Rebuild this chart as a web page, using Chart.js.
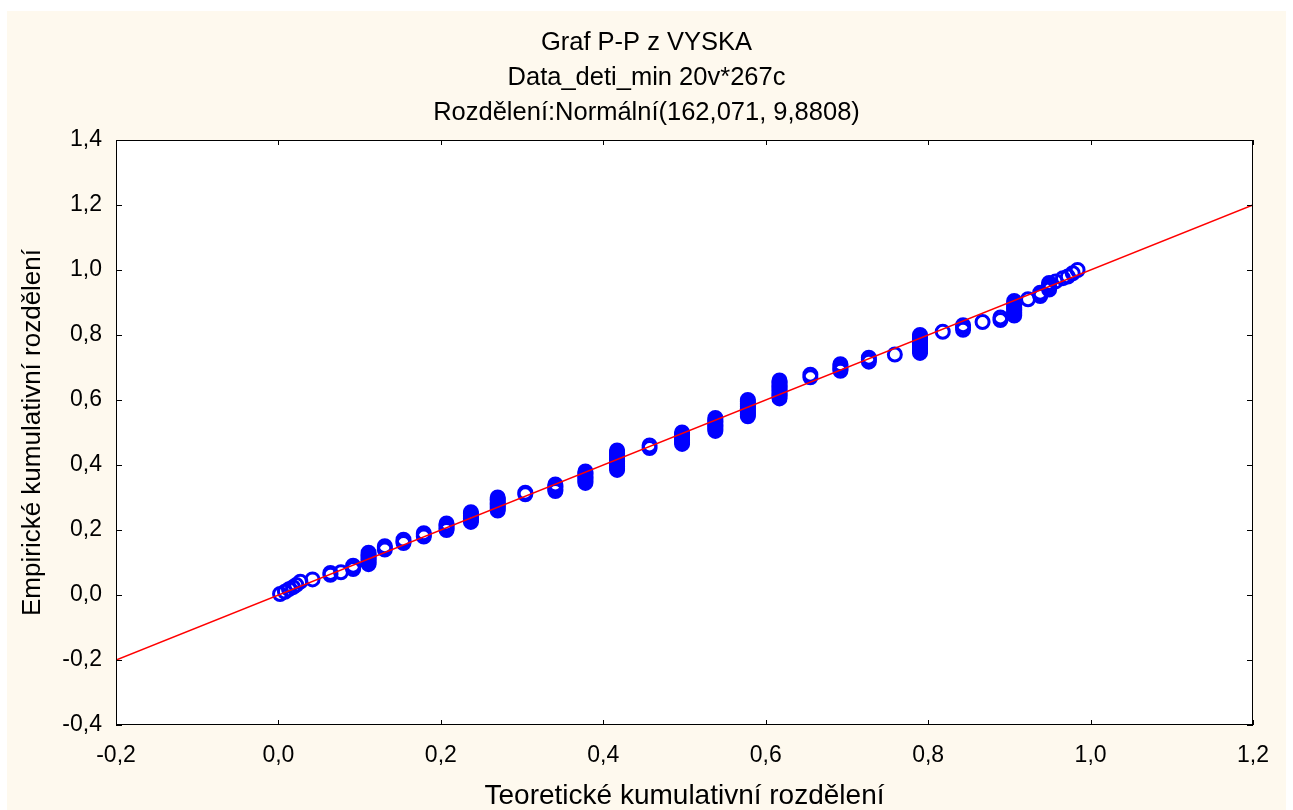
<!DOCTYPE html>
<html>
<head>
<meta charset="utf-8">
<script src="https://cdn.jsdelivr.net/npm/chart.js@4.4.1/dist/chart.umd.min.js"></script>
<style>
  html, body { margin: 0; padding: 0; background: #fff; }
  canvas { display: block; }
</style>
</head>
<body>
<canvas id="ppChart" width="1293" height="810"></canvas>
<script>
/* ==========================
   DATA
========================== */
const titleLines = ["Graf P-P z VYSKA", "Data_deti_min 20v*267c", "Rozdělení:Normální(162,071, 9,8808)"];
const xAxisTitle = "Teoretické kumulativní rozdělení";
const yAxisTitle = "Empirické kumulativní rozdělení";

const xTicks = [-0.2, 0.0, 0.2, 0.4, 0.6, 0.8, 1.0, 1.2];
const yTicks = [-0.4, -0.2, 0.0, 0.2, 0.4, 0.6, 0.8, 1.0, 1.2, 1.4];

// theoretical cumulative value of each group of equal heights
const theoretical = [
    0.002, 0.008, 0.013, 0.018, 0.022, 0.027, 0.042, 0.064, 0.077, 0.092,
    0.111, 0.131, 0.154, 0.179, 0.207, 0.237, 0.270, 0.304, 0.341, 0.378,
    0.417, 0.457, 0.497, 0.538, 0.578, 0.617, 0.655, 0.692, 0.727, 0.759,
    0.790, 0.818, 0.843, 0.867, 0.889, 0.906, 0.923, 0.938, 0.949, 0.957,
    0.966, 0.972, 0.978, 0.984
];

// empirical cumulative values seen in each group (stacked circles)
const empirical = [
    [0.003], [0.010], [0.018], [0.024], [0.031], [0.041], [0.048], [0.062, 0.068], [0.070], [0.080, 0.085, 0.090],
    [0.095, 0.100, 0.105, 0.110, 0.115, 0.120, 0.125, 0.130],
    [0.140, 0.145, 0.150],
    [0.160, 0.165, 0.170],
    [0.180, 0.185, 0.190],
    [0.200, 0.205, 0.210, 0.215, 0.220],
    [0.225, 0.230, 0.235, 0.240, 0.245, 0.250, 0.255],
    [0.260, 0.265, 0.270, 0.275, 0.280, 0.285, 0.290, 0.295, 0.300],
    [0.310, 0.315],
    [0.320, 0.325, 0.330, 0.335, 0.340],
    [0.345, 0.350, 0.355, 0.360, 0.365, 0.370, 0.375, 0.380],
    [0.385, 0.390, 0.395, 0.400, 0.405, 0.410, 0.415, 0.420, 0.425, 0.430, 0.435, 0.440, 0.445],
    [0.452, 0.460],
    [0.465, 0.470, 0.475, 0.480, 0.485, 0.490, 0.495, 0.500],
    [0.505, 0.510, 0.515, 0.520, 0.525, 0.530, 0.535, 0.540, 0.545],
    [0.550, 0.555, 0.560, 0.565, 0.570, 0.575, 0.580, 0.585, 0.590, 0.595, 0.600],
    [0.605, 0.610, 0.615, 0.620, 0.625, 0.630, 0.635, 0.640, 0.645, 0.650, 0.655, 0.660],
    [0.670, 0.678],
    [0.690, 0.695, 0.700, 0.705, 0.710],
    [0.718, 0.725, 0.730],
    [0.740],
    [0.745, 0.750, 0.755, 0.760, 0.765, 0.770, 0.775, 0.780, 0.785, 0.790, 0.795, 0.800],
    [0.810],
    [0.816, 0.824, 0.830],
    [0.840],
    [0.846, 0.854],
    [0.860, 0.865, 0.870, 0.875, 0.880, 0.885, 0.890, 0.895, 0.900, 0.905],
    [0.910],
    [0.920, 0.925, 0.930],
    [0.940, 0.945, 0.950, 0.955, 0.960],
    [0.965], [0.975], [0.980], [0.990], [1.000]
];

// reference line y = x over the axis range
const refLineX = [-0.2, 1.2];
const refLineY = [-0.2, 1.2];

/* ==========================
   STYLE
========================== */
const FONT = "'Liberation Sans', Arial, sans-serif";
const CREAM = "#fef9ee";

function comma(v) {
    if (Math.abs(v) < 1e-9) v = 0;
    return v.toFixed(1).replace(".", ",");
}

const points = [];
theoretical.forEach((tx, i) => {
    empirical[i].forEach(ey => points.push({ x: tx, y: ey }));
});
const refLine = refLineX.map((x, i) => ({ x: x, y: refLineY[i] }));

// cream page, white plot, black frame with inward ticks
const framePlugin = {
    id: "framePlugin",
    beforeDraw(chart) {
        const { ctx, chartArea: a } = chart;
        ctx.save();
        ctx.fillStyle = "#ffffff";
        ctx.fillRect(0, 0, chart.width, chart.height);
        ctx.fillStyle = CREAM;
        ctx.fillRect(7, 11, 1279, chart.height - 11);
        ctx.fillStyle = "#ffffff";
        ctx.fillRect(a.left, a.top, a.right - a.left, a.bottom - a.top);
        ctx.restore();
    },
    afterDraw(chart) {
        const { ctx, chartArea: a, scales } = chart;
        ctx.save();
        ctx.strokeStyle = "#000";
        ctx.lineWidth = 1;
        ctx.strokeRect(a.left + 0.5, a.top + 0.5, a.right - a.left - 1, a.bottom - a.top - 1);
        ctx.beginPath();
        xTicks.forEach(v => {
            const px = Math.round(scales.x.getPixelForValue(v)) + 0.5;
            ctx.moveTo(px, a.bottom); ctx.lineTo(px, a.bottom - 5);
            ctx.moveTo(px, a.top); ctx.lineTo(px, a.top + 5);
        });
        yTicks.forEach(v => {
            const py = Math.round(scales.y.getPixelForValue(v)) + 0.5;
            ctx.moveTo(a.left, py); ctx.lineTo(a.left + 6, py);
            ctx.moveTo(a.right, py); ctx.lineTo(a.right - 6, py);
        });
        ctx.stroke();
        ctx.restore();
    }
};

/* ==========================
   CHART
========================== */
new Chart(document.getElementById("ppChart"), {
    type: "scatter",
    data: {
        datasets: [
            {
                type: "line",
                data: refLine,
                borderColor: "#ff0000",
                borderWidth: 1.6,
                pointRadius: 0,
                fill: false
            },
            {
                data: points,
                pointStyle: "circle",
                pointRadius: 6.5,
                borderWidth: 3,
                borderColor: "#0000ff",
                backgroundColor: "rgba(0,0,0,0)"
            }
        ]
    },
    options: {
        responsive: false,
        devicePixelRatio: 1,
        animation: false,
        layout: { padding: 0 },
        plugins: {
            legend: { display: false },
            tooltip: { enabled: false },
            title: {
                display: true,
                text: titleLines,
                color: "#000",
                font: { family: FONT, size: 25.5, weight: "normal", lineHeight: "35px" },
                padding: { top: 25, bottom: 10 }
            }
        },
        scales: {
            x: {
                type: "linear",
                min: -0.2,
                max: 1.2,
                afterBuildTicks: s => { s.ticks = xTicks.map(v => ({ value: v })); },
                afterFit: s => { s.height = 85; },
                grid: { display: false, drawTicks: false },
                border: { display: false },
                ticks: {
                    color: "#000",
                    padding: 17,
                    maxRotation: 0,
                    font: { family: FONT, size: 23 },
                    callback: v => comma(v)
                },
                title: {
                    display: true,
                    text: xAxisTitle,
                    color: "#000",
                    font: { family: FONT, size: 28, lineHeight: 1 },
                    padding: { top: 0, bottom: 0 }
                }
            },
            y: {
                type: "linear",
                min: -0.4,
                max: 1.4,
                afterBuildTicks: s => { s.ticks = yTicks.map(v => ({ value: v })); },
                afterFit: s => { s.width = 116; },
                grid: { display: false, drawTicks: false },
                border: { display: false },
                ticks: {
                    color: "#000",
                    padding: 14,
                    font: { family: FONT, size: 23 },
                    callback: v => comma(v)
                },
                title: {
                    display: true,
                    text: yAxisTitle,
                    color: "#000",
                    font: { family: FONT, size: 26 },
                    padding: { top: 17, bottom: 0 }
                }
            },
            // empty right margin so the title stays centred on the page
            yRight: {
                type: "linear",
                position: "right",
                min: -0.4,
                max: 1.4,
                afterFit: s => { s.width = 40; },
                grid: { display: false, drawTicks: false },
                border: { display: false },
                ticks: { display: false }
            }
        }
    },
    plugins: [framePlugin]
});
</script>
</body>
</html>
